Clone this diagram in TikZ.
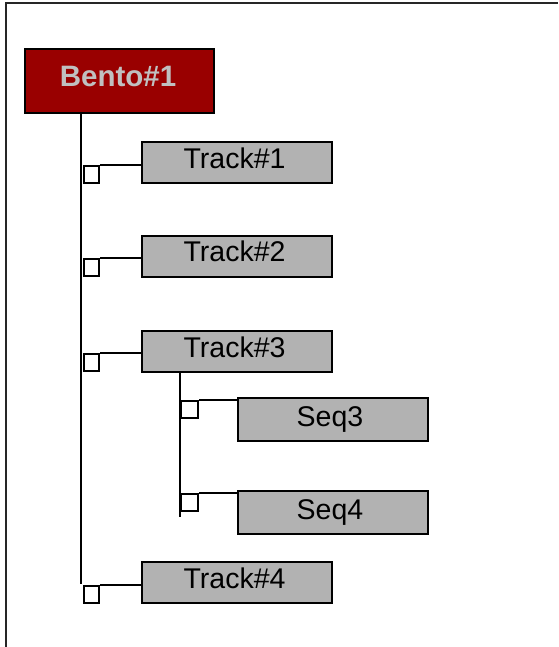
\documentclass[tikz,border=0pt]{standalone}
\usepackage{fontspec}
\setmainfont{Liberation Sans}
\definecolor{bentored}{HTML}{990000}
\definecolor{bentotext}{HTML}{C0C0C0}
\definecolor{trackgray}{HTML}{B2B2B2}
\begin{document}
\begin{tikzpicture}[x=1pt,y=-1pt,
  trackbox/.style={draw=black, line width=2pt, fill=trackgray, minimum width=190pt, minimum height=41pt,
    inner sep=0pt, font=\fontsize{28.5}{30}\selectfont, text height=21pt, text depth=10pt,
    execute at begin node={\hspace*{-5pt}}},
  seqbox/.style={trackbox, minimum height=43pt, text depth=8pt, execute at begin node={}},
  bentobox/.style={draw=black, line width=2pt, fill=bentored, minimum width=189pt, minimum height=64pt,
    inner sep=0pt, text=bentotext, font=\fontsize{29.5}{31}\selectfont\bfseries, text height=20pt, text depth=8pt,
    execute at begin node={\hspace*{-3pt}}},
  sqbox/.style={draw=black, line width=2pt, fill=white, minimum width=15pt, minimum height=17pt, inner sep=0pt, anchor=north west},
  conn/.style={draw=black, line width=2pt}]
\useasboundingbox (0,0) rectangle (558,647);
% outer frame
\draw[line width=2pt, black!85] (6,647) -- (6,3) -- (558,3);
% nodes
\node[bentobox] (bento) at (119.5,81) {Bento\#1};
\node[trackbox] (t1) at (237,162.5) {Track\#1};
\node[trackbox] (t2) at (237,256) {Track\#2};
\node[trackbox] (t3) at (237,351.5) {Track\#3};
\node[trackbox] (t4) at (237,582.5) {Track\#4};
\node[seqbox] (s3) at (332.5,419.5) {Seq3};
\node[seqbox] (s4) at (332.5,512.5) {Seq4};
% trunk lines
\coordinate (v0) at (81,113);
\coordinate (v1) at (81,584);
\coordinate (w1) at (180,517);
\draw[conn] (v0) -- (v1);
\draw[conn] (t3.south -| w1) -- (w1);
% squares
\node[sqbox] (q1) at (83,165) {};
\node[sqbox] (q2) at (83,258) {};
\node[sqbox] (q3) at (83,353) {};
\node[sqbox] (q4) at (83,585) {};
\node[sqbox, minimum width=17pt] (r3) at (180,400) {};
\node[sqbox, minimum width=17pt] (r4) at (180,493) {};
% connectors
\draw[conn] (q1.north east) -- (q1.north east -| t1.west);
\draw[conn] (q2.north east) -- (q2.north east -| t2.west);
\draw[conn] (q3.north east) -- (q3.north east -| t3.west);
\draw[conn] (q4.north east) -- (q4.north east -| t4.west);
\draw[conn] (r3.north east) -- (r3.north east -| s3.west);
\draw[conn] (r4.north east) -- (r4.north east -| s4.west);
\end{tikzpicture}
\end{document}
